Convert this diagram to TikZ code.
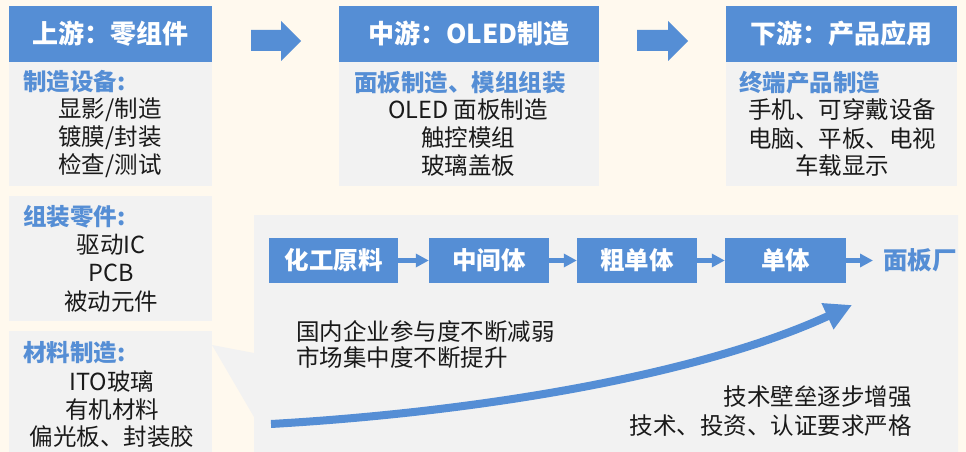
\documentclass[tikz,border=0pt]{standalone}
\usepackage{fontspec}
\setmainfont{Noto Sans CJK SC}
\usetikzlibrary{arrows.meta}
\definecolor{bgc}{HTML}{FFF9EE}
\definecolor{pan}{HTML}{F2F2F2}
\definecolor{blu}{HTML}{558ED5}
\definecolor{txt}{HTML}{1A1A1A}
\begin{document}
\begin{tikzpicture}[x=1pt,y=-1pt,
  hdr/.style={fill=blu,draw=none,inner sep=0,text=white,font=\bfseries\fontsize{26}{28}\selectfont},
  panel/.style={fill=pan,draw=none,inner sep=0},
  sub/.style={text=blu,font=\bfseries\fontsize{23.5}{27}\selectfont,inner sep=0,anchor=west},
  body/.style={text=txt,font=\fontsize{23.5}{27}\selectfont,inner sep=0},
  flowbox/.style={fill=blu,draw=none,text=white,font=\bfseries\fontsize{24.5}{28}\selectfont,minimum height=45pt,inner sep=0},
  flowarr/.style={draw=blu,line width=5pt,-{Triangle[length=13pt,width=13pt]}},
  blockarr/.style={fill=blu,draw=none}
]
\useasboundingbox (0,0) rectangle (966,452);
\fill[bgc] (0,0) rectangle (966,452);

% top boxes
\node[panel,minimum width=203pt,minimum height=124pt] (b1) at (110.5,124) {};
\node[hdr,minimum width=203pt,minimum height=56pt] (h1) at (110.5,34) {上游：零组件};
\node[panel,minimum width=260pt,minimum height=124pt] (b2) at (469,124) {};
\node[hdr,minimum width=260pt,minimum height=56pt] (h2) at (469,34) {中游：OLED制造};
\node[panel,minimum width=231pt,minimum height=124pt] (b3) at (841.5,124) {};
\node[hdr,minimum width=231pt,minimum height=56pt] (h3) at (841.5,34) {下游：产品应用};

% block arrows
\fill[blockarr] (251,30) -- (281,30) -- (281,21) -- (301,41) -- (281,61) -- (281,51) -- (251,51) -- cycle;
\fill[blockarr] (637,30) -- (668,30) -- (668,21) -- (688,41) -- (668,61) -- (668,51) -- (637,51) -- cycle;

% box 1 text
\node[sub] (s1) at (23,82) {制造设备:};
\node[body] (t11) at (110,110) {显影/制造};
\node[body] (t12) at (110,138) {镀膜/封装};
\node[body] (t13) at (110,166) {检查/测试};

% box 2 text
\node[sub,anchor=center] (s2) at (460,83) {面板制造、模组组装};
\node[body] (t21) at (468,110) {OLED 面板制造};
\node[body] (t22) at (468,138) {触控模组};
\node[body] (t23) at (468,166) {玻璃盖板};

% box 3 text
\node[sub] (s3) at (739,83) {终端产品制造};
\node[body] (t31) at (842,110) {手机、可穿戴设备};
\node[body] (t32) at (842,139) {电脑、平板、电视};
\node[body] (t33) at (842,166) {车载显示};

% left panels
\fill[pan] (9,196) rectangle (212,321);
\node[sub] (s4) at (23,217) {组装零件:};
\node[body] (t41) at (111,245) {驱动IC};
\node[body] (t42) at (111,273) {PCB};
\node[body] (t43) at (111,302) {被动元件};

\fill[pan] (9,331) rectangle (212,452);
\node[sub] (s5) at (23,353) {材料制造:};
\node[body] (t51) at (112,382) {ITO玻璃};
\node[body] (t52) at (112,410) {有机材料};
\node[body] (t53) at (112,437) {偏光板、封装胶};

% big panel with callout wedge
\fill[pan] (254,215) -- (958,215) -- (958,452) -- (254,452) -- (254,417) -- (212,345) -- (254,353) -- cycle;

% flow
\node[flowbox,minimum width=129pt] (f1) at (333.5,260.5) {化工原料};
\node[flowbox,minimum width=120pt] (f2) at (489,260.5) {中间体};
\node[flowbox,minimum width=120pt] (f3) at (637,260.5) {粗单体};
\node[flowbox,minimum width=121pt] (f4) at (785.5,260.5) {单体};
\node[text=blu,font=\bfseries\fontsize{24.5}{28}\selectfont,inner sep=0,anchor=west] (f5) at (883,260.5) {面板厂};
\draw[flowarr] (f1.east) -- (f2.west);
\draw[flowarr] (f2.east) -- (f3.west);
\draw[flowarr] (f3.east) -- (f4.west);
\draw[flowarr,shorten >=10pt] (f4.east) -- (f5.west);

% big curved arrow
\coordinate (cs) at (271,424);
\coordinate (ce) at (852,305);
\draw[blu,line width=8pt,-{Triangle[length=27pt,width=27pt]}] (cs) .. controls (480,412) and (700,375) .. (ce);

% panel texts
\node[body,anchor=west] (p1) at (296,332) {国内企业参与度不断减弱};
\node[body,anchor=west] (p2) at (296,358) {市场集中度不断提升};
\node[body,anchor=east] (p3) at (912,397) {技术壁垒逐步增强};
\node[body,anchor=east] (p4) at (912,426) {技术、投资、认证要求严格};
\end{tikzpicture}
\end{document}
